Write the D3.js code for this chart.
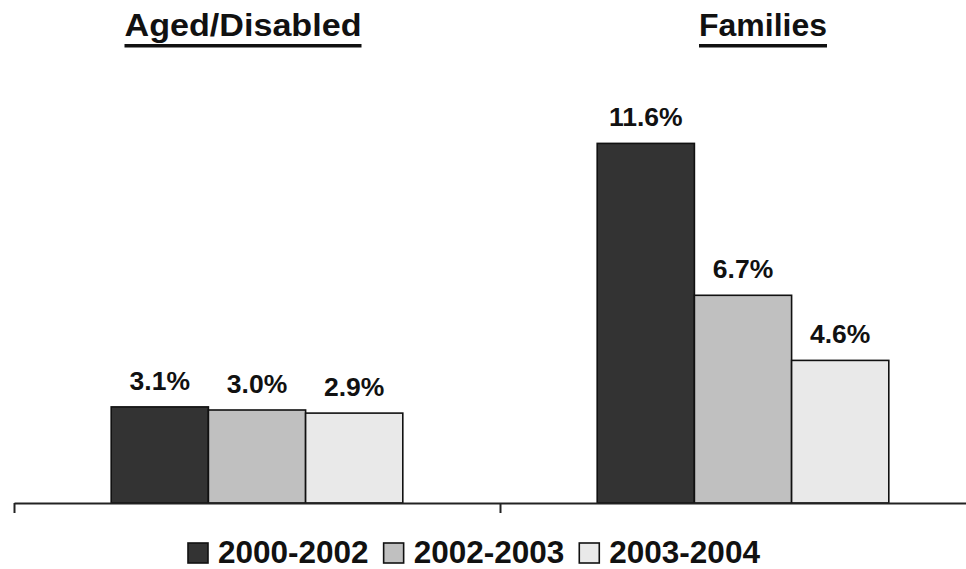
<!DOCTYPE html>
<html>
<head>
<meta charset="utf-8">
<script src="https://cdn.jsdelivr.net/npm/d3@7"></script>
<style>
  html, body { margin: 0; padding: 0; background: #ffffff; }
  svg { display: block; }
  text { font-family: "Liberation Sans", Arial, Helvetica, sans-serif; font-weight: bold; fill: #111111; }
</style>
</head>
<body>
<svg id="chart" width="966" height="569"></svg>
<script>
// Caseload growth by eligibility group
const categories = ["Aged/Disabled", "Families"];
const seriesNames = ["2000-2002", "2002-2003", "2003-2004"];
const agedDisabled = [3.1, 3.0, 2.9];
const families = [11.6, 6.7, 4.6];
const valueLabels = [["3.1%", "3.0%", "2.9%"], ["11.6%", "6.7%", "4.6%"]];

const seriesValues = [agedDisabled, families];
const fills = ["#333333", "#c0c0c0", "#e9e9e9"];

const svg = d3.select("#chart");
const baseY = 503;

// one band per category across the full axis width
const x0 = d3.scaleBand().domain(categories).range([14, 986]).padding(0);
// three bars per band, with one bar width of space on each side
const x1 = d3.scaleBand().domain(seriesNames).range([0, x0.bandwidth()]).paddingInner(0).paddingOuter(1);
const y = d3.scaleLinear().domain([0, 12]).range([baseY, 131]);

// bars
const groups = svg.append("g").selectAll("g")
  .data(categories.map((c, i) => ({ cat: c, vals: seriesValues[i], labels: valueLabels[i] })))
  .join("g")
  .attr("transform", d => `translate(${x0(d.cat)},0)`);

groups.selectAll("rect")
  .data(d => d.vals.map((v, j) => ({ s: seriesNames[j], v, j })))
  .join("rect")
  .attr("x", d => x1(d.s))
  .attr("y", d => y(d.v))
  .attr("width", x1.bandwidth())
  .attr("height", d => baseY - y(d.v))
  .attr("fill", d => fills[d.j])
  .attr("stroke", "#111111")
  .attr("stroke-width", 1.6);

// value labels above each bar
groups.selectAll("text.val")
  .data(d => d.vals.map((v, j) => ({ s: seriesNames[j], v, lab: d.labels[j] })))
  .join("text")
  .attr("class", "val")
  .attr("x", d => x1(d.s) + x1.bandwidth() / 2)
  .attr("y", d => y(d.v) - 17)
  .attr("text-anchor", "middle")
  .style("font-size", "26.5px")
  .text(d => d.lab);

// category axis with ticks on band edges
const edge = d3.scaleLinear().domain([0, categories.length]).range(x0.range());
const axis = svg.append("g")
  .attr("transform", `translate(0,${baseY})`)
  .call(d3.axisBottom(edge).tickValues(d3.range(categories.length + 1)).tickSize(10).tickSizeOuter(0).tickFormat(""));
axis.selectAll("path, line").attr("stroke", "#222222").attr("stroke-width", 2);

// underlined category titles
const titleShift = [-14, 20];
const titleWidth = [237, 128];
categories.forEach((c, i) => {
  const cx = x0(c) + x0.bandwidth() / 2 + titleShift[i];
  const t = svg.append("text")
    .attr("x", cx)
    .attr("y", 36)
    .attr("text-anchor", "middle")
    .attr("textLength", titleWidth[i])
    .attr("lengthAdjust", "spacingAndGlyphs")
    .style("font-size", "31px")
    .text(c);
  svg.append("rect")
    .attr("x", cx - titleWidth[i] / 2)
    .attr("y", 44)
    .attr("width", titleWidth[i])
    .attr("height", 3.5)
    .attr("fill", "#111111");
});

// legend
let lx = 188;
const legend = svg.append("g");
seriesNames.forEach((s, j) => {
  legend.append("rect")
    .attr("x", lx)
    .attr("y", 543)
    .attr("width", 20)
    .attr("height", 20)
    .attr("fill", fills[j])
    .attr("stroke", "#111111")
    .attr("stroke-width", 1.6);
  const t = legend.append("text")
    .attr("x", lx + 30)
    .attr("y", 563)
    .style("font-size", "31.5px")
    .text(s);
  lx += 30 + t.node().getComputedTextLength() + 15;
});
</script>
</body>
</html>
